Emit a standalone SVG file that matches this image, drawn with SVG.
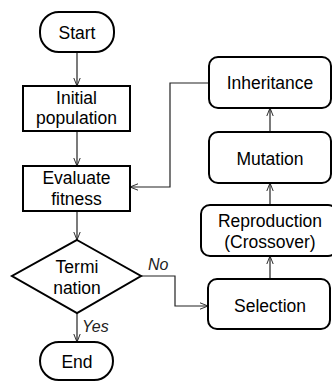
<svg xmlns="http://www.w3.org/2000/svg" width="332" height="381" viewBox="0 0 332 381">
<style>
.box{fill:#fff;stroke:#000;stroke-width:2}
.t{font-family:"Liberation Sans",Arial,sans-serif;font-size:17.5px;fill:#000;text-anchor:middle}
.lbl{font-family:"Liberation Sans",Arial,sans-serif;font-size:16px;font-style:italic;fill:#222}
.c{fill:none;stroke:#222;stroke-width:1.2}
</style>
<defs>
<marker id="ah" viewBox="0 0 10 10" refX="10" refY="5" markerWidth="8" markerHeight="8" orient="auto" markerUnits="userSpaceOnUse">
<path d="M0,1 L10,5 L0,9" fill="none" stroke="#222" stroke-width="1.2"/>
</marker>
</defs>
<rect width="332" height="381" fill="#fff"/>
<g id="connectors">
<path class="c" d="M77,52 V86" marker-end="url(#ah)"/>
<path class="c" d="M77,131 V166" marker-end="url(#ah)"/>
<path class="c" d="M77,211 V240" marker-end="url(#ah)"/>
<path class="c" d="M77,313 V342" marker-end="url(#ah)"/>
<path class="c" d="M141,276 H175 V306 H208" marker-end="url(#ah)"/>
<path class="c" d="M270,279 V256" marker-end="url(#ah)"/>
<path class="c" d="M270,205 V183" marker-end="url(#ah)"/>
<path class="c" d="M270,132 V108" marker-end="url(#ah)"/>
<path class="c" d="M209,83 H170 V187 H130" marker-end="url(#ah)"/>
<text class="lbl" x="148" y="270">No</text>
<text class="lbl" x="82" y="332">Yes</text>
</g>
<g id="start">
<rect class="box" x="40" y="12" width="74" height="40" rx="19" ry="19"/>
<text class="t" x="77" y="39">Start</text>
</g>
<g id="initial">
<rect class="box" x="23" y="86" width="107" height="45"/>
<text class="t" x="76.5" y="104">Initial</text>
<text class="t" x="76.5" y="124">population</text>
</g>
<g id="evaluate">
<rect class="box" x="23" y="166" width="107" height="45"/>
<text class="t" x="76.5" y="184">Evaluate</text>
<text class="t" x="76.5" y="205">fitness</text>
</g>
<g id="termination">
<polygon class="box" points="77,240 141,276 77,313 12,276"/>
<text class="t" x="77" y="273">Termi</text>
<text class="t" x="77" y="294">nation</text>
</g>
<g id="end">
<rect class="box" x="40" y="342" width="73" height="38" rx="19" ry="19"/>
<text class="t" x="77" y="368">End</text>
</g>
<g id="selection">
<rect class="box" x="208" y="279" width="122" height="50" rx="9" ry="9"/>
<text class="t" x="270" y="312">Selection</text>
</g>
<g id="reproduction">
<rect class="box" x="201" y="205" width="136" height="51" rx="9" ry="9"/>
<text class="t" x="270" y="227">Reproduction</text>
<text class="t" x="270" y="248">(Crossover)</text>
</g>
<g id="mutation">
<rect class="box" x="209" y="132" width="122" height="51" rx="9" ry="9"/>
<text class="t" x="270" y="165">Mutation</text>
</g>
<g id="inheritance">
<rect class="box" x="209" y="57" width="122" height="51" rx="9" ry="9"/>
<text class="t" x="270" y="89">Inheritance</text>
</g>
</svg>
